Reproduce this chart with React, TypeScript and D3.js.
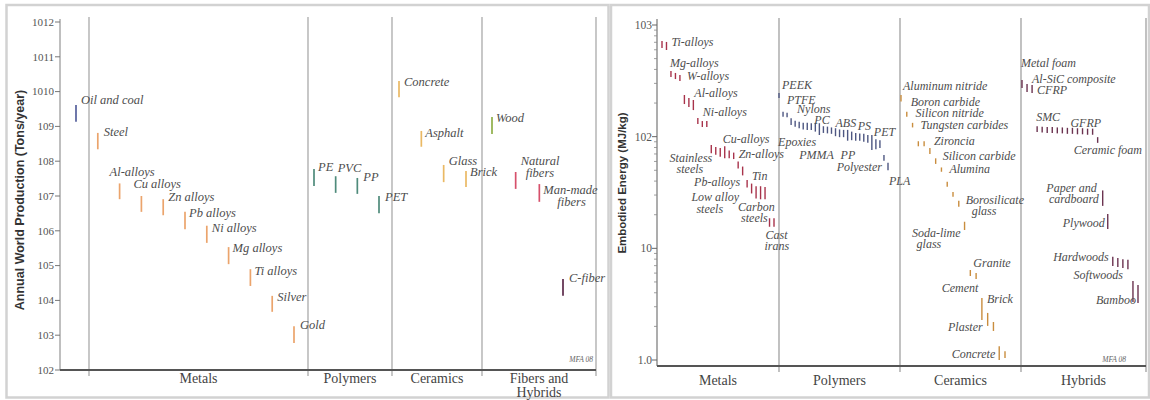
import React from 'react';
import * as d3 from 'd3';

// ================= LEFT CHART: Annual world production (tons/year) =================
const prodCategories = ['Metals', 'Polymers', 'Ceramics', 'Fibers and Hybrids'];

const prodMetalNames = ['Oil and coal', 'Steel', 'Al-alloys', 'Cu alloys', 'Zn alloys', 'Pb alloys', 'Ni alloys', 'Mg alloys', 'Ti alloys', 'Silver', 'Gold'];
const prodMetalLow = [1.35e9, 2.2e8, 8.1e6, 3.5e6, 2.8e6, 1.1e6, 4.5e5, 1.1e5, 2.6e4, 4.7e3, 600];
const prodMetalHigh = [4.1e9, 6.5e8, 2.3e7, 1.0e7, 8.1e6, 3.5e6, 1.4e6, 3.4e5, 7.9e4, 1.35e4, 1.8e3];

const prodPolymerNames = ['PE', 'PVC', 'PP', 'PET'];
const prodPolymerLow = [1.95e7, 1.23e7, 1.15e7, 3.2e6];
const prodPolymerHigh = [6.0e7, 3.7e7, 3.3e7, 1.0e7];

const prodCeramicNames = ['Concrete', 'Asphalt', 'Glass', 'Brick'];
const prodCeramicLow = [6.9e9, 2.6e8, 2.5e7, 1.8e7];
const prodCeramicHigh = [2.0e10, 7.4e8, 7.8e7, 5.2e7];

const prodFiberNames = ['Wood', 'Natural fibers', 'Man-made fibers', 'C-fiber'];
const prodFiberLow = [6.0e8, 1.6e7, 6.8e6, 1.35e4];
const prodFiberHigh = [1.86e9, 4.9e7, 2.2e7, 4.1e4];

const prodTicks = [1e2, 1e3, 1e4, 1e5, 1e6, 1e7, 1e8, 1e9, 1e10, 1e11, 1e12];
const prodTickLabels = ['102', '103', '104', '105', '106', '107', '108', '109', '1010', '1011', '1012'];

// ================= RIGHT CHART: Embodied energy (MJ/kg) =================
const energyCategories = ['Metals', 'Polymers', 'Ceramics', 'Hybrids'];

const energyMetals: [number, number][] = [
  [622, 719], [597, 705],
  [342, 387], [328, 372], [315, 357],
  [196, 236], [184, 222], [173, 213],
  [130, 147], [122, 138], [122, 138],
  [71, 84], [69, 81], [66, 79], [64, 82], [64, 75], [63, 72],
  [52, 60], [45, 54],
  [35, 41], [31, 38], [28, 36], [27.5, 36], [27.5, 35.5],
  [15.6, 18.6], [15.6, 18.6],
];
const energyPolymers: [number, number][] = [
  [222, 246], [151, 167], [149, 164], [127, 146], [123, 139], [119, 136], [116, 133], [115, 133],
  [115, 132], [111, 133], [103.5, 132], [108, 124], [107, 123], [106, 121], [101, 119], [99, 116],
  [99, 115], [92, 115], [93, 111], [92, 108], [92, 107], [90, 106], [88, 103.5], [76, 103.5],
  [77, 95], [79, 93], [61, 68.5], [50, 58.5],
];
const energyCeramics: [number, number][] = [
  [206, 236], [151, 167], [121, 133], [82, 91], [82, 91], [70, 79], [57, 64], [48.5, 53],
  [35.6, 39.5], [29, 32], [23.6, 26.7], [14.6, 17.3], [5.65, 6.4], [5.3, 6.0], [2.28, 3.6],
  [2.02, 2.64], [1.82, 2.19], [1.0, 1.33], [1.04, 1.2],
];
const energyHybrids: [number, number][] = [
  [273, 322], [251, 296], [246, 290],
  [110, 124], [109, 123], [108, 122], [108, 122], [107, 121], [107, 121],
  [106, 120], [106, 120], [105, 119], [105, 119], [104, 118], [104, 118],
  [88, 99], [24, 33], [14.9, 20.3],
  [6.95, 8.4], [6.8, 8.2], [6.65, 8.0], [6.5, 7.9],
  [3.3, 5.1], [3.24, 4.7],
];

const energyTicks = [1, 10, 100, 1000];
const energyTickLabels = ['1.0', '10', '102', '103'];

// ================= Layout / styles =================
const W = 1150;
const H = 400;
const serif = "'Liberation Serif', 'Times New Roman', serif";
const sans = "'Liberation Sans', Arial, sans-serif";
const labelColor = '#4d4d4d';

const prodLayout = {
  axisX: 60, top: 22, base: 370, axisTop: 19, divTop: 17, divBottom: 376,
  bounds: [89, 308, 392, 482, 596],
  groupRanges: [[76, 294], [314, 379], [399, 466], [492, 563]] as [number, number][],
};
const energyLayout = {
  axisX: 657, top: 25, oneY: 360, base: 366, axisTop: 19, divTop: 18, divBottom: 372,
  bounds: [657, 779, 900, 1021, 1146],
  groupRanges: [[662, 774], [779, 888], [901, 1005], [1022, 1138]] as [number, number][],
};

const prodColors: Record<string, string> = {
  'Oil and coal': '#55609c',
  Metals: '#eba46c',
  Polymers: '#4f8b7b',
  Ceramics: '#eab964',
  Wood: '#8fae48',
  'Natural fibers': '#d6506b',
  'Man-made fibers': '#d6506b',
  'C-fiber': '#5c2a4a',
};
const energyColors = ['#a8334b', '#4e5782', '#c98d3e', '#6b3350'];

type Lab = { bar: string; text: string; dx: number; dy: number; end?: boolean };

const prodLabels: Lab[] = [
  { bar: 'Oil and coal', text: 'Oil and coal', dx: 5, dy: -1 },
  { bar: 'Steel', text: 'Steel', dx: 6, dy: 3 },
  { bar: 'Al-alloys', text: 'Al-alloys', dx: -10, dy: -7 },
  { bar: 'Cu alloys', text: 'Cu alloys', dx: -8, dy: -8 },
  { bar: 'Zn alloys', text: 'Zn alloys', dx: 5, dy: 2 },
  { bar: 'Pb alloys', text: 'Pb alloys', dx: 4, dy: 5 },
  { bar: 'Ni alloys', text: 'Ni alloys', dx: 5, dy: 6 },
  { bar: 'Mg alloys', text: 'Mg alloys', dx: 4, dy: 5 },
  { bar: 'Ti alloys', text: 'Ti alloys', dx: 4, dy: 6 },
  { bar: 'Silver', text: 'Silver', dx: 5, dy: 5 },
  { bar: 'Gold', text: 'Gold', dx: 6, dy: 3 },
  { bar: 'PE', text: 'PE', dx: 4, dy: 2 },
  { bar: 'PVC', text: 'PVC', dx: 2, dy: -4 },
  { bar: 'PP', text: 'PP', dx: 6, dy: 3 },
  { bar: 'PET', text: 'PET', dx: 6, dy: 5 },
  { bar: 'Concrete', text: 'Concrete', dx: 5, dy: 5 },
  { bar: 'Asphalt', text: 'Asphalt', dx: 4, dy: 6 },
  { bar: 'Glass', text: 'Glass', dx: 5, dy: 0 },
  { bar: 'Brick', text: 'Brick', dx: 4, dy: 5 },
  { bar: 'Wood', text: 'Wood', dx: 4, dy: 5 },
  { bar: 'Natural fibers', text: 'Natural', dx: 5, dy: -7 },
  { bar: 'Natural fibers', text: 'fibers', dx: 10, dy: 5 },
  { bar: 'Man-made fibers', text: 'Man-made', dx: 4, dy: 10 },
  { bar: 'Man-made fibers', text: 'fibers', dx: 18, dy: 22 },
  { bar: 'C-fiber', text: 'C-fiber', dx: 6, dy: 3 },
];

const energyLabels: Lab[] = [
  { bar: 'g0-1', text: 'Ti-alloys', dx: 5, dy: 4 },
  { bar: 'g0-2', text: 'Mg-alloys', dx: -1, dy: -4 },
  { bar: 'g0-4', text: 'W-alloys', dx: 7, dy: 5 },
  { bar: 'g0-7', text: 'Al-alloys', dx: 1, dy: -3 },
  { bar: 'g0-10', text: 'Ni-alloys', dx: -4, dy: -5 },
  { bar: 'g0-14', text: 'Cu-alloys', dx: -2, dy: -3 },
  { bar: 'g0-11', text: 'Stainless', dx: 1, dy: 17, end: true },
  { bar: 'g0-11', text: 'steels', dx: -8, dy: 28, end: true },
  { bar: 'g0-16', text: 'Zn-alloys', dx: 5, dy: 5 },
  { bar: 'g0-19', text: 'Tin', dx: 5, dy: 0 },
  { bar: 'g0-19', text: 'Pb-alloys', dx: -7, dy: 6, end: true },
  { bar: 'g0-19', text: 'Low alloy', dx: -8, dy: 21, end: true },
  { bar: 'g0-19', text: 'steels', dx: -24, dy: 33, end: true },
  { bar: 'g0-21', text: 'Carbon', dx: -18, dy: 25 },
  { bar: 'g0-21', text: 'steels', dx: -15, dy: 36 },
  { bar: 'g0-24', text: 'Cast', dx: -4, dy: 21 },
  { bar: 'g0-24', text: 'irans', dx: -5, dy: 32 },

  { bar: 'g1-0', text: 'PEEK', dx: 3, dy: -4 },
  { bar: 'g1-1', text: 'PTFE', dx: 4, dy: -8 },
  { bar: 'g1-3', text: 'Nylons', dx: 6, dy: -5 },
  { bar: 'g1-9', text: 'PC', dx: -1, dy: 1 },
  { bar: 'g1-14', text: 'ABS', dx: 0, dy: -1 },
  { bar: 'g1-20', text: 'PS', dx: -2, dy: -3 },
  { bar: 'g1-23', text: 'PET', dx: 2, dy: 1 },
  { bar: 'g1-3', text: 'Epoxies', dx: -13, dy: 28 },
  { bar: 'g1-5', text: 'PMMA', dx: 0, dy: 37 },
  { bar: 'g1-15', text: 'PP', dx: 1, dy: 30 },
  { bar: 'g1-26', text: 'Polyester', dx: -2, dy: 16, end: true },
  { bar: 'g1-27', text: 'PLA', dx: 1, dy: 22 },

  { bar: 'g2-0', text: 'Aluminum nitride', dx: 2, dy: -5 },
  { bar: 'g2-1', text: 'Boron carbide', dx: 4, dy: -6 },
  { bar: 'g2-2', text: 'Silicon nitride', dx: 3, dy: -6 },
  { bar: 'g2-2', text: 'Tungsten carbides', dx: 8, dy: 6 },
  { bar: 'g2-5', text: 'Zironcia', dx: 4, dy: -3 },
  { bar: 'g2-6', text: 'Silicon carbide', dx: 7, dy: 2 },
  { bar: 'g2-7', text: 'Alumina', dx: 8, dy: 6 },
  { bar: 'g2-10', text: 'Borosilicate', dx: 7, dy: 3 },
  { bar: 'g2-10', text: 'glass', dx: 13, dy: 14 },
  { bar: 'g2-11', text: 'Soda-lime', dx: -4, dy: 15, end: true },
  { bar: 'g2-11', text: 'glass', dx: -48, dy: 26 },
  { bar: 'g2-12', text: 'Granite', dx: 3, dy: -3 },
  { bar: 'g2-12', text: 'Cement', dx: 8, dy: 22, end: true },
  { bar: 'g2-14', text: 'Brick', dx: 5, dy: 5 },
  { bar: 'g2-15', text: 'Plaster', dx: -5, dy: 18, end: true },
  { bar: 'g2-17', text: 'Concrete', dx: -4, dy: 12, end: true },

  { bar: 'g3-0', text: 'Metal foam', dx: -1, dy: -13 },
  { bar: 'g3-1', text: 'Al-SiC composite', dx: 5, dy: -1 },
  { bar: 'g3-2', text: 'CFRP', dx: 5, dy: 9 },
  { bar: 'g3-3', text: 'SMC', dx: -1, dy: -5 },
  { bar: 'g3-10', text: 'GFRP', dx: -2, dy: -1 },
  { bar: 'g3-15', text: 'Ceramic foam', dx: -24, dy: 17 },
  { bar: 'g3-16', text: 'Paper and', dx: -6, dy: 2, end: true },
  { bar: 'g3-16', text: 'cardboard', dx: -4, dy: 13, end: true },
  { bar: 'g3-17', text: 'Plywood', dx: -3, dy: 13, end: true },
  { bar: 'g3-18', text: 'Hardwoods', dx: -4, dy: 4, end: true },
  { bar: 'g3-22', text: 'Softwoods', dx: -10, dy: -2, end: true },
  { bar: 'g3-23', text: 'Bamboo', dx: -2, dy: 19, end: true },
];

type Bar = { id: string; x: number; y1: number; y2: number; color: string };

function ProductionChart() {
  const L = prodLayout;
  const y = d3.scaleLog().domain([1e2, 1e12]).range([L.base, L.top]);
  const groups = [
    { key: 'Metals', names: prodMetalNames, low: prodMetalLow, high: prodMetalHigh },
    { key: 'Polymers', names: prodPolymerNames, low: prodPolymerLow, high: prodPolymerHigh },
    { key: 'Ceramics', names: prodCeramicNames, low: prodCeramicLow, high: prodCeramicHigh },
    { key: 'Fibers', names: prodFiberNames, low: prodFiberLow, high: prodFiberHigh },
  ];
  const bars: Bar[] = [];
  groups.forEach((g, gi) => {
    const x = d3.scalePoint<string>().domain(g.names).range(L.groupRanges[gi]);
    g.names.forEach((n, i) => {
      const color = prodColors[n] ?? prodColors[g.key];
      bars.push({ id: n, x: x(n)!, y1: y(g.high[i]), y2: y(g.low[i]), color });
    });
  });
  const byId = new Map(bars.map((b) => [b.id, b]));
  const catLines = prodCategories.map((c) => (c === 'Fibers and Hybrids' ? ['Fibers and', 'Hybrids'] : [c]));

  return (
    <g>
      {L.bounds.map((bx, i) => (
        <line key={'d' + i} x1={bx} x2={bx} y1={L.divTop} y2={L.divBottom} stroke="#9a9a9a" strokeWidth={1.1} />
      ))}
      <line x1={L.axisX} x2={L.axisX} y1={L.axisTop} y2={L.base} stroke="#8a8a8a" strokeWidth={1.1} />
      {prodTicks.map((t, i) => (
        <g key={'t' + i}>
          <line x1={L.axisX - 5} x2={L.axisX} y1={y(t)} y2={y(t)} stroke="#777" strokeWidth={1} />
          <text x={L.axisX - 6} y={y(t)} dy="0.35em" textAnchor="end" fontFamily={serif} fontSize={11} fill="#555">
            {prodTickLabels[i]}
          </text>
        </g>
      ))}
      <line x1={L.axisX} x2={L.bounds[L.bounds.length - 1]} y1={L.base} y2={L.base} stroke="#555" strokeWidth={1.8} />
      {catLines.map((lines, i) => {
        const cx = (L.bounds[i] + L.bounds[i + 1]) / 2;
        return lines.map((ln, j) => (
          <text key={'c' + i + j} x={cx} y={383 + j * 14} textAnchor="middle" fontFamily={serif} fontSize={14} fill="#444">
            {ln}
          </text>
        ));
      })}
      {bars.map((b) => (
        <line key={b.id} x1={b.x} x2={b.x} y1={b.y1} y2={b.y2} stroke={b.color} strokeWidth={1.7} />
      ))}
      {prodLabels.map((l, i) => {
        const b = byId.get(l.bar)!;
        return (
          <text key={'l' + i} x={b.x + l.dx} y={b.y1 + l.dy} textAnchor={l.end ? 'end' : 'start'} fontFamily={serif} fontStyle="italic" fontSize={12.5} fill={labelColor}>
            {l.text}
          </text>
        );
      })}
      <text x={593} y={362} textAnchor="end" fontFamily={serif} fontStyle="italic" fontSize={7.5} fill="#666">MFA 08</text>
      <text transform={`translate(24,${200}) rotate(-90)`} textAnchor="middle" fontFamily={sans} fontWeight="bold" fontSize={12.5} fill="#333">
        Annual World Production (Tons/year)
      </text>
    </g>
  );
}

function EnergyChart() {
  const L = energyLayout;
  const y = d3.scaleLog().domain([1, 1000]).range([L.oneY, L.top]);
  const groups = [energyMetals, energyPolymers, energyCeramics, energyHybrids];
  const bars: Bar[] = [];
  groups.forEach((g, gi) => {
    const ids = g.map((_, i) => `g${gi}-${i}`);
    const x = d3.scalePoint<string>().domain(ids).range(L.groupRanges[gi]);
    g.forEach(([lo, hi], i) => {
      bars.push({ id: ids[i], x: x(ids[i])!, y1: y(hi), y2: y(lo), color: energyColors[gi] });
    });
  });
  const byId = new Map(bars.map((b) => [b.id, b]));
  const minor = y.ticks().filter((t) => !energyTicks.includes(t));

  return (
    <g>
      {L.bounds.slice(1).map((bx, i) => (
        <line key={'d' + i} x1={bx} x2={bx} y1={L.divTop} y2={L.divBottom} stroke="#8f8f8f" strokeWidth={1.1} />
      ))}
      <line x1={L.axisX} x2={L.axisX} y1={L.axisTop} y2={L.base} stroke="#6a6a6a" strokeWidth={1.1} />
      {minor.map((t, i) => (
        <line key={'m' + i} x1={L.axisX - 3} x2={L.axisX} y1={y(t)} y2={y(t)} stroke="#888" strokeWidth={0.8} />
      ))}
      {energyTicks.map((t, i) => (
        <g key={'t' + i}>
          <line x1={L.axisX - 5} x2={L.axisX} y1={y(t)} y2={y(t)} stroke="#666" strokeWidth={1} />
          <text x={L.axisX - 5} y={y(t)} dy="0.35em" textAnchor="end" fontFamily={serif} fontSize={11.5} fill="#555">
            {energyTickLabels[i]}
          </text>
        </g>
      ))}
      <line x1={L.axisX} x2={L.bounds[L.bounds.length - 1]} y1={L.base} y2={L.base} stroke="#555" strokeWidth={1.8} />
      {energyCategories.map((c, i) => (
        <text key={'c' + i} x={(L.bounds[i] + L.bounds[i + 1]) / 2} y={385} textAnchor="middle" fontFamily={serif} fontSize={14} fill="#444">
          {c}
        </text>
      ))}
      {bars.map((b) => (
        <line key={b.id} x1={b.x} x2={b.x} y1={b.y1} y2={b.y2} stroke={b.color} strokeWidth={1.4} />
      ))}
      {energyLabels.map((l, i) => {
        const b = byId.get(l.bar)!;
        return (
          <text key={'l' + i} x={b.x + l.dx} y={b.y1 + l.dy} textAnchor={l.end ? 'end' : 'start'} fontFamily={serif} fontStyle="italic" fontSize={12} fill={labelColor}>
            {l.text}
          </text>
        );
      })}
      <text x={1126} y={362} textAnchor="end" fontFamily={serif} fontStyle="italic" fontSize={7.5} fill="#666">MFA 08</text>
      <text transform={`translate(626,${183}) rotate(-90)`} textAnchor="middle" fontFamily={sans} fontWeight="bold" fontSize={11.5} fill="#333">
        Embodied Energy (MJ/kg)
      </text>
    </g>
  );
}

export default function App() {
  return (
    <svg width={W} height={H} viewBox={`0 0 ${W} ${H}`} style={{ position: 'absolute', left: 0, top: 0, background: '#fff' }}>
      <rect x={0} y={0} width={W} height={H} fill="#fff" />
      <rect x={6.5} y={5} width={602} height={392.5} fill="none" stroke="#d2d2d2" strokeWidth={2.5} />
      <rect x={611} y={5} width={538} height={392.5} fill="none" stroke="#d2d2d2" strokeWidth={2.5} />
      <ProductionChart />
      <EnergyChart />
    </svg>
  );
}
